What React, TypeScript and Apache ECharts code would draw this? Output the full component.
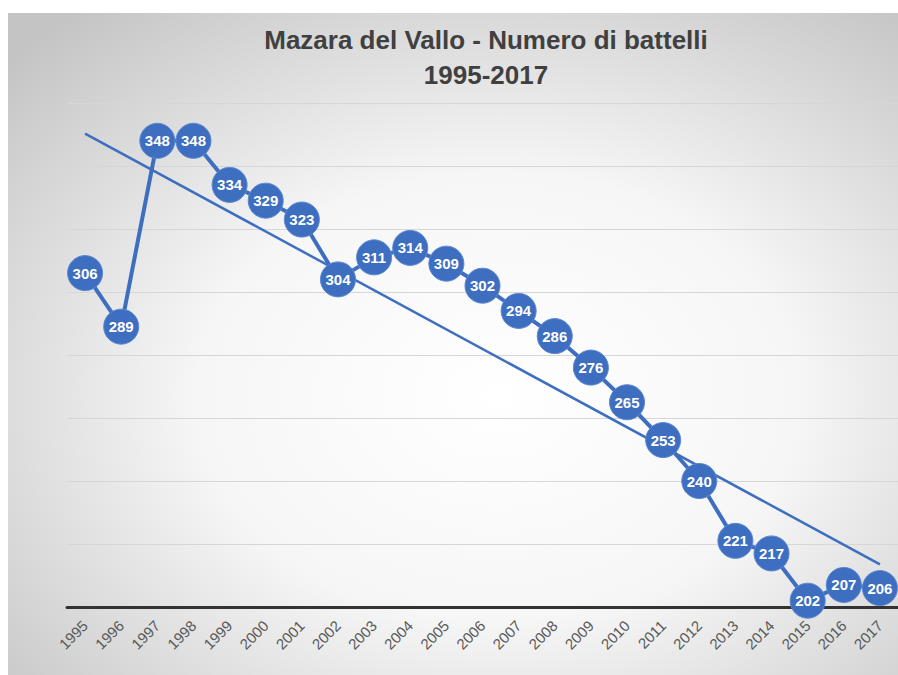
import React, { useEffect, useRef } from "react";
import * as echarts from "echarts";

const years = ["1995","1996","1997","1998","1999","2000","2001","2002","2003","2004","2005","2006","2007","2008","2009","2010","2011","2012","2013","2014","2015","2016","2017"];
const boats = [306,289,348,348,334,329,323,304,311,314,309,302,294,286,276,265,253,240,221,217,202,207,206];
const titleLines = ["Mazara del Vallo - Numero di battelli", "1995-2017"];

function linearTrend(values: number[]) {
  const n = values.length;
  const mx = (n - 1) / 2;
  const my = values.reduce((s, v) => s + v, 0) / n;
  let sxy = 0, sxx = 0;
  values.forEach((v, i) => { sxy += (i - mx) * (v - my); sxx += (i - mx) * (i - mx); });
  const b = sxy / sxx;
  const a = my - b * mx;
  return values.map((_, i) => (i === 0 || i === n - 1 ? a + b * i : "-"));
}

export default function App() {
  const ref = useRef<HTMLDivElement>(null);
  useEffect(() => {
    if (!ref.current) return;
    const chart = echarts.init(ref.current, null, { renderer: "svg" });
    const blue = "#3d6ebf";
    chart.setOption({
      animation: false,
      backgroundColor: {
        type: "radial", x: 0.55, y: 0.58, r: 0.75,
        colorStops: [
          { offset: 0, color: "#ffffff" },
          { offset: 0.45, color: "#f6f6f6" },
          { offset: 1, color: "#c4c4c4" },
        ],
      },
      graphic: [
        { type: "text", x: 478, y: 27, style: { text: titleLines[0], font: "bold 26px 'Liberation Sans', Arial, sans-serif", fill: "#404040", textAlign: "center", textVerticalAlign: "middle" } },
        { type: "text", x: 478, y: 62, style: { text: titleLines[1], font: "bold 26px 'Liberation Sans', Arial, sans-serif", fill: "#404040", textAlign: "center", textVerticalAlign: "middle" } },
      ],
      grid: { left: 59, right: 0, top: 90, bottom: 68 },
      xAxis: {
        type: "category",
        data: years,
        boundaryGap: true,
        axisLine: { lineStyle: { color: "#333333", width: 3 } },
        axisTick: { show: false },
        axisLabel: { rotate: 45, fontSize: 15, color: "#595959", fontFamily: "'Liberation Sans', Arial, sans-serif", margin: 16, interval: 0 },
      },
      yAxis: {
        type: "value",
        min: 200, max: 360, interval: 20,
        axisLine: { show: false },
        axisTick: { show: false },
        axisLabel: { show: false },
        splitLine: { lineStyle: { color: "#d6d6d6", width: 1 } },
      },
      series: [
        {
          type: "line",
          data: linearTrend(boats),
          connectNulls: true,
          showSymbol: false,
          symbol: "none",
          lineStyle: { color: blue, width: 2.5 },
          z: 1,
          silent: true,
        },
        {
          type: "line",
          data: boats,
          symbol: "circle",
          symbolSize: 35,
          lineStyle: { color: blue, width: 4 },
          itemStyle: { color: blue, borderColor: "#5a88d2", borderWidth: 1 },
          label: {
            show: true,
            position: "inside",
            color: "#ffffff",
            fontSize: 15,
            fontWeight: "bold",
            fontFamily: "'Liberation Sans', Arial, sans-serif",
          },
          z: 3,
        },
      ],
    });
    return () => chart.dispose();
  }, []);
  return <div ref={ref} style={{ position: "absolute", left: 8, top: 13, width: 890, height: 662 }} />;
}
